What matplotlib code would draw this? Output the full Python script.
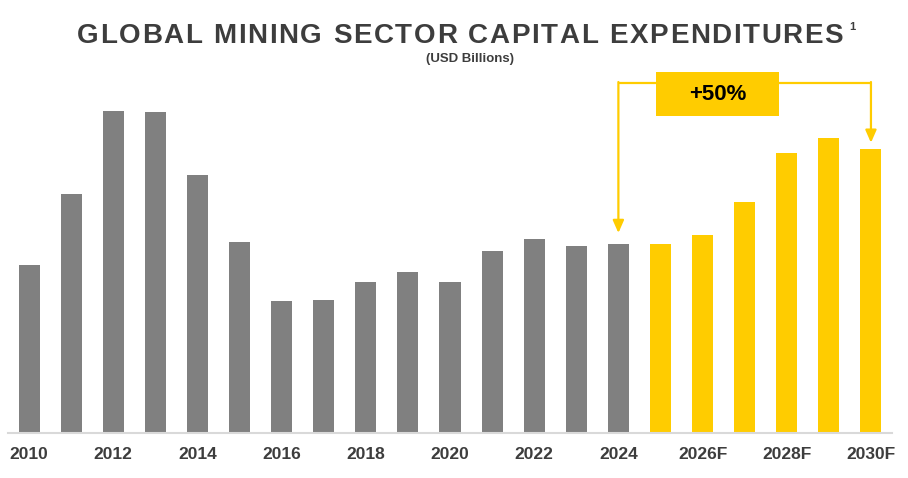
import matplotlib
matplotlib.use('Agg')
import matplotlib.pyplot as plt
from matplotlib.patches import Rectangle

# data (USD billions)
years = ['2010', '2011', '2012', '2013', '2014', '2015', '2016', '2017', '2018', '2019',
         '2020', '2021', '2022', '2023', '2024', '2025F', '2026F', '2027F', '2028F',
         '2029F', '2030F']
capex = [67.2, 95.6, 128.8, 128.3, 103.1, 76.4, 52.9, 53.2, 60.5, 64.4,
         60.3, 72.8, 77.5, 74.8, 75.6, 75.7, 79.2, 92.5, 112.0, 118.0, 113.6]
tick_labels = ['2010', '2012', '2014', '2016', '2018', '2020', '2022', '2024',
               '2026F', '2028F', '2030F']
growth_label = '+50%'

GRAY = '#808080'
YELLOW = '#FFCC00'
DARK = '#3d3d3d'
FONT = ['Liberation Sans', 'DejaVu Sans']

fig = plt.figure(figsize=(9.08, 4.78), dpi=100)
W, H = 908, 478
ax = fig.add_axes([8 / W, 45 / H, 884 / W, 375 / H])

colors = [YELLOW if y.endswith('F') else GRAY for y in years]
x = list(range(len(years)))
ax.bar(x, capex, width=0.5, color=colors, zorder=2)

ax.set_xlim(-0.5, len(years) - 0.5)
ax.set_ylim(0, 150)
for s in ['top', 'right', 'left']:
    ax.spines[s].set_visible(False)
ax.spines['bottom'].set_color('#d9d9d9')
ax.spines['bottom'].set_linewidth(1.5)
ax.set_yticks([])
ax.set_xticks([years.index(t) for t in tick_labels])
ax.set_xticklabels(tick_labels, fontsize=12.5, fontweight='bold', color=DARK, family=FONT)
ax.tick_params(axis='x', length=0, pad=10)

# +50% annotation
i0 = years.index('2024')
i1 = years.index('2030F')
box_left, box_right = 14.9, 17.82
box_bot, box_top = 126.8, 144.4
line_y = 140
lw = 1.6
ax.plot([box_left, i0], [line_y, line_y], color=YELLOW, lw=lw, solid_capstyle='butt')
ax.plot([box_right, i1], [line_y, line_y], color=YELLOW, lw=lw, solid_capstyle='butt')
arrow = dict(arrowstyle='-|>,head_length=0.75,head_width=0.33', lw=lw, color=YELLOW,
             shrinkA=0, shrinkB=0)
ax.annotate('', xy=(i0, capex[i0] + 4.4), xytext=(i0, line_y + lw / 4), arrowprops=arrow)
ax.annotate('', xy=(i1, capex[i1] + 2.5), xytext=(i1, line_y + lw / 4), arrowprops=arrow)
ax.add_patch(Rectangle((box_left, box_bot), box_right - box_left, box_top - box_bot,
                       facecolor=YELLOW, edgecolor='none', zorder=3))
ax.text((box_left + box_right) / 2, (box_bot + box_top) / 2, growth_label,
        ha='center', va='center', fontsize=16, fontweight='bold', color='black',
        family=FONT, zorder=4)

# spaced-out title, letters spread to fill the same width as the reference
title = 'GLOBAL MINING SECTOR CAPITAL EXPENDITURES'
title_left, title_right = 77, 843
renderer = fig.canvas.get_renderer()
widths = []
for ch in title:
    if ch == ' ':
        widths.append(8)
        continue
    t = fig.text(0, 0, ch, fontsize=20, fontweight='bold', family=FONT)
    widths.append(t.get_window_extent(renderer).width)
    t.remove()
tracking = (title_right - title_left - sum(widths)) / (len(title) - 1)
xpos = title_left
for ch, w in zip(title, widths):
    if ch != ' ':
        fig.text(xpos / W, 1 - 43 / H, ch, fontsize=20, fontweight='bold', family=FONT,
                 color=DARK, ha='left', va='baseline')
    xpos += w + tracking
fig.text((xpos - tracking + 6) / W, 1 - 30 / H, '1', fontsize=8, fontweight='bold',
         family=FONT, color=DARK, ha='left', va='baseline')

fig.text(470 / W, 1 - 59 / H, '(USD Billions)', fontsize=9.5, fontweight='bold',
         family=FONT, color=DARK, ha='center', va='center')

fig.savefig('out.png', dpi=100)
